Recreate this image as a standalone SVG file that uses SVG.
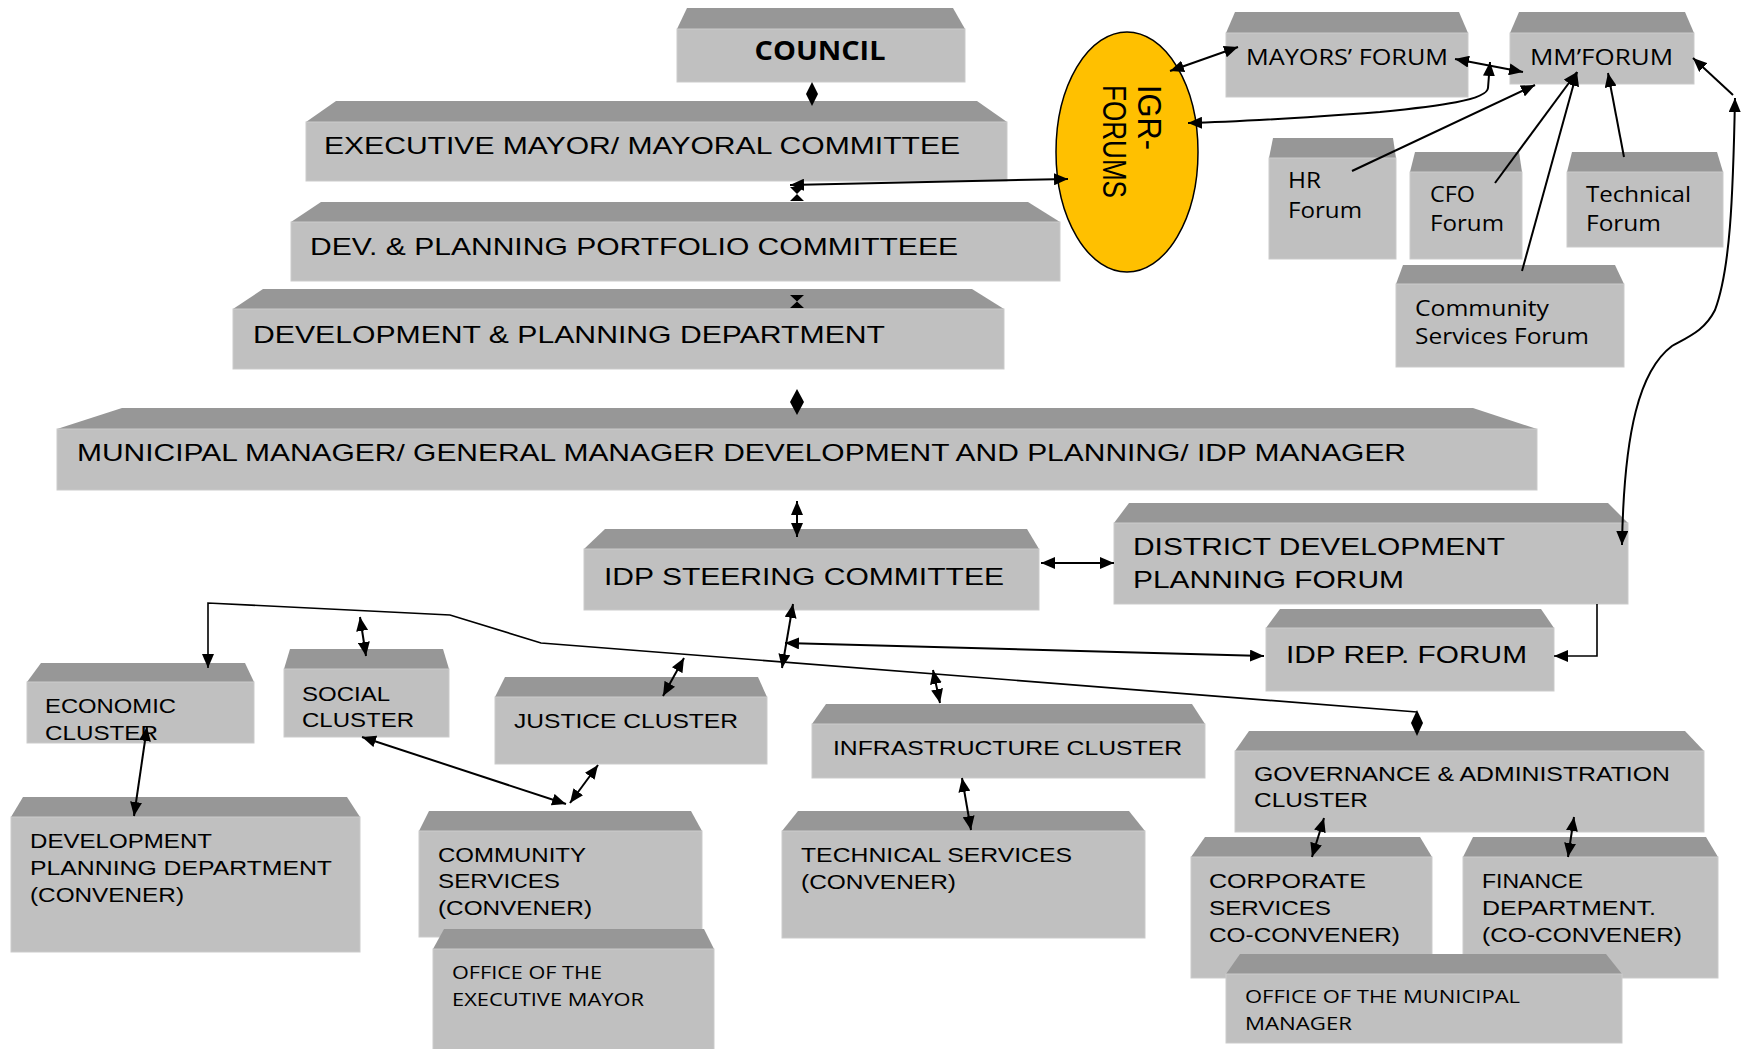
<svg xmlns="http://www.w3.org/2000/svg" width="1750" height="1049" viewBox="0 0 1750 1049">
<style>
.top{fill:#979797}
.front{fill:#c0c0c0;stroke:#cbcbcb;stroke-width:1}
.a{font-family:"Liberation Sans",Arial,sans-serif;fill:#000}
.b{font-size:24px}
.c{font-size:21px}
.o{font-family:"Open Sans","Liberation Sans",sans-serif;fill:#000}
.of{font-size:21px}
.oo{font-size:19px}
.ln{fill:none;stroke:#000;stroke-width:2}
.thin{fill:none;stroke:#000;stroke-width:1.6}
.dm{fill:#000}
</style>
<defs>
<marker id="ah" viewBox="0 0 14 12" refX="14" refY="6" markerWidth="14" markerHeight="12" markerUnits="userSpaceOnUse" orient="auto-start-reverse">
<path d="M0,0 L14,6 L0,12 z" fill="#000"/>
</marker>
</defs>
<rect width="1750" height="1049" fill="#fff"/>

<g id="council">
<polygon class="top" points="687,8 953,8 965,29 677,29"/>
<rect class="front" x="677" y="29" width="288" height="53"/>
<text x="820" y="60" text-anchor="middle" style="font-family:'Open Sans','Liberation Sans',sans-serif;font-weight:bold;font-size:27px" textLength="131" lengthAdjust="spacingAndGlyphs">COUNCIL</text>
</g>

<g id="executive-mayor">
<polygon class="top" points="336,101 977,101 1007,122 306,122"/>
<rect class="front" x="306" y="122" width="701" height="59"/>
<text class="a b" x="324" y="154" textLength="636" lengthAdjust="spacingAndGlyphs">EXECUTIVE MAYOR/ MAYORAL COMMITTEE</text>
</g>

<g id="portfolio-committee">
<polygon class="top" points="321,202 1028,202 1060,222 291,222"/>
<rect class="front" x="291" y="222" width="769" height="59"/>
<text class="a b" x="310" y="255" textLength="648" lengthAdjust="spacingAndGlyphs">DEV. &amp; PLANNING PORTFOLIO COMMITTEEE</text>
</g>

<g id="dev-planning-department">
<polygon class="top" points="263,289 972,289 1004,309 233,309"/>
<rect class="front" x="233" y="309" width="771" height="60"/>
<text class="a b" x="253" y="343" textLength="632" lengthAdjust="spacingAndGlyphs">DEVELOPMENT &amp; PLANNING DEPARTMENT</text>
</g>

<g id="municipal-manager">
<polygon class="top" points="122,408 1473,408 1537,429 57,429"/>
<rect class="front" x="57" y="429" width="1480" height="61"/>
<text class="a b" x="77" y="461" textLength="1329" lengthAdjust="spacingAndGlyphs">MUNICIPAL MANAGER/ GENERAL MANAGER DEVELOPMENT AND PLANNING/ IDP MANAGER</text>
</g>

<g id="idp-steering">
<polygon class="top" points="605,529 1027,529 1039,549 584,549"/>
<rect class="front" x="584" y="549" width="455" height="61"/>
<text class="a b" x="604" y="585" textLength="400" lengthAdjust="spacingAndGlyphs">IDP STEERING COMMITTEE</text>
</g>

<g id="district-forum">
<polygon class="top" points="1129,503 1608,503 1628,523 1114,523"/>
<rect class="front" x="1114" y="523" width="514" height="81"/>
<text class="a b" x="1133" y="555" textLength="372" lengthAdjust="spacingAndGlyphs">DISTRICT DEVELOPMENT</text>
<text class="a b" x="1133" y="588" textLength="271" lengthAdjust="spacingAndGlyphs">PLANNING FORUM</text>
</g>

<g id="idp-rep-forum">
<polygon class="top" points="1280,609 1541,609 1554,628 1266,628"/>
<rect class="front" x="1266" y="628" width="288" height="63"/>
<text class="a b" x="1286" y="663" textLength="241" lengthAdjust="spacingAndGlyphs">IDP REP. FORUM</text>
</g>

<g id="economic-cluster">
<polygon class="top" points="41,663 245,663 254,682 27,682"/>
<rect class="front" x="27" y="682" width="227" height="61"/>
<text class="a c" x="45" y="713" textLength="131" lengthAdjust="spacingAndGlyphs">ECONOMIC</text>
<text class="a c" x="45" y="740" textLength="113" lengthAdjust="spacingAndGlyphs">CLUSTER</text>
</g>

<g id="social-cluster">
<polygon class="top" points="290,649 443,649 449,669 284,669"/>
<rect class="front" x="284" y="669" width="165" height="68"/>
<text class="a c" x="302" y="701" textLength="88" lengthAdjust="spacingAndGlyphs">SOCIAL</text>
<text class="a c" x="302" y="727" textLength="112" lengthAdjust="spacingAndGlyphs">CLUSTER</text>
</g>

<g id="justice-cluster">
<polygon class="top" points="505,677 758,677 767,697 495,697"/>
<rect class="front" x="495" y="697" width="272" height="67"/>
<text class="a c" x="514" y="728" textLength="224" lengthAdjust="spacingAndGlyphs">JUSTICE  CLUSTER</text>
</g>

<g id="infrastructure-cluster">
<polygon class="top" points="826,704 1192,704 1205,724 812,724"/>
<rect class="front" x="812" y="724" width="393" height="54"/>
<text class="a c" x="833" y="755" textLength="349" lengthAdjust="spacingAndGlyphs">INFRASTRUCTURE  CLUSTER</text>
</g>

<g id="governance-cluster">
<polygon class="top" points="1249,731 1685,731 1704,751 1235,751"/>
<rect class="front" x="1235" y="751" width="469" height="81"/>
<text class="a c" x="1254" y="781" textLength="416" lengthAdjust="spacingAndGlyphs">GOVERNANCE  &amp; ADMINISTRATION</text>
<text class="a c" x="1254" y="807" textLength="114" lengthAdjust="spacingAndGlyphs">CLUSTER</text>
</g>

<g id="dev-planning-convener">
<polygon class="top" points="23,797 347,797 360,817 11,817"/>
<rect class="front" x="11" y="817" width="349" height="135"/>
<text class="a c" x="30" y="848" textLength="182" lengthAdjust="spacingAndGlyphs">DEVELOPMENT</text>
<text class="a c" x="30" y="875" textLength="302" lengthAdjust="spacingAndGlyphs">PLANNING  DEPARTMENT</text>
<text class="a c" x="30" y="902" textLength="154" lengthAdjust="spacingAndGlyphs">(CONVENER)</text>
</g>

<g id="community-services-convener">
<polygon class="top" points="429,811 691,811 702,831 419,831"/>
<rect class="front" x="419" y="831" width="283" height="106"/>
<text class="a c" x="438" y="862" textLength="148" lengthAdjust="spacingAndGlyphs">COMMUNITY</text>
<text class="a c" x="438" y="888" textLength="122" lengthAdjust="spacingAndGlyphs">SERVICES</text>
<text class="a c" x="438" y="915" textLength="154" lengthAdjust="spacingAndGlyphs">(CONVENER)</text>
</g>

<g id="office-executive-mayor">
<polygon class="top" points="444,929 704,929 714,949 433,949"/>
<rect class="front" x="433" y="949" width="281" height="101"/>
<text class="o oo" x="452" y="979" textLength="150" lengthAdjust="spacingAndGlyphs">OFFICE OF THE</text>
<text class="o oo" x="452" y="1006" textLength="192" lengthAdjust="spacingAndGlyphs">EXECUTIVE MAYOR</text>
</g>

<g id="technical-services-convener">
<polygon class="top" points="798,811 1129,811 1145,831 782,831"/>
<rect class="front" x="782" y="831" width="363" height="107"/>
<text class="a c" x="801" y="862" textLength="271" lengthAdjust="spacingAndGlyphs">TECHNICAL  SERVICES</text>
<text class="a c" x="801" y="889" textLength="155" lengthAdjust="spacingAndGlyphs">(CONVENER)</text>
</g>

<g id="corporate-services">
<polygon class="top" points="1205,837 1420,837 1432,857 1191,857"/>
<rect class="front" x="1191" y="857" width="241" height="121"/>
<text class="a c" x="1209" y="888" textLength="157" lengthAdjust="spacingAndGlyphs">CORPORATE</text>
<text class="a c" x="1209" y="915" textLength="122" lengthAdjust="spacingAndGlyphs">SERVICES</text>
<text class="a c" x="1209" y="942" textLength="191" lengthAdjust="spacingAndGlyphs">CO-CONVENER)</text>
</g>

<g id="finance-department">
<polygon class="top" points="1473,837 1706,837 1718,857 1463,857"/>
<rect class="front" x="1463" y="857" width="255" height="121"/>
<text class="a c" x="1482" y="888" textLength="101" lengthAdjust="spacingAndGlyphs">FINANCE</text>
<text class="a c" x="1482" y="915" textLength="174" lengthAdjust="spacingAndGlyphs">DEPARTMENT.</text>
<text class="a c" x="1482" y="942" textLength="200" lengthAdjust="spacingAndGlyphs">(CO-CONVENER)</text>
</g>

<g id="office-municipal-manager">
<polygon class="top" points="1240,954 1606,954 1622,974 1226,974"/>
<rect class="front" x="1226" y="974" width="396" height="69"/>
<text class="o oo" x="1245" y="1003" textLength="275" lengthAdjust="spacingAndGlyphs">OFFICE OF THE MUNICIPAL</text>
<text class="o oo" x="1245" y="1030" textLength="107" lengthAdjust="spacingAndGlyphs">MANAGER</text>
</g>

<g id="igr-forums">
<ellipse cx="1127" cy="152" rx="71" ry="120" fill="#ffc000" stroke="#000" stroke-width="1.5"/>
<text class="a" style="font-size:27px" transform="translate(1138,85) scale(1.2,1) rotate(90)" textLength="65" lengthAdjust="spacingAndGlyphs">IGR-</text>
<text class="a" style="font-size:27px" transform="translate(1103,85) scale(1.2,1) rotate(90)" textLength="113" lengthAdjust="spacingAndGlyphs">FORUMS</text>
</g>

<g id="mayors-forum">
<polygon class="top" points="1235,12 1459,12 1468,33 1226,33"/>
<rect class="front" x="1226" y="33" width="242" height="64"/>
<text class="o of" x="1246" y="65" textLength="202" lengthAdjust="spacingAndGlyphs">MAYORS’ FORUM</text>
</g>

<g id="mm-forum">
<polygon class="top" points="1519,12 1685,12 1694,33 1510,33"/>
<rect class="front" x="1510" y="33" width="184" height="51"/>
<text class="o of" x="1530" y="65" textLength="143" lengthAdjust="spacingAndGlyphs">MM’FORUM</text>
</g>

<g id="hr-forum">
<polygon class="top" points="1273,138 1393,138 1396,158 1269,158"/>
<rect class="front" x="1269" y="158" width="127" height="101"/>
<text class="o of" x="1288" y="188" textLength="33" lengthAdjust="spacingAndGlyphs">HR</text>
<text class="o of" x="1288" y="218" textLength="74" lengthAdjust="spacingAndGlyphs">Forum</text>
</g>

<g id="cfo-forum">
<polygon class="top" points="1415,152 1519,152 1522,172 1410,172"/>
<rect class="front" x="1410" y="172" width="112" height="87"/>
<text class="o of" x="1430" y="202" textLength="45" lengthAdjust="spacingAndGlyphs">CFO</text>
<text class="o of" x="1430" y="231" textLength="74" lengthAdjust="spacingAndGlyphs">Forum</text>
</g>

<g id="technical-forum">
<polygon class="top" points="1572,152 1717,152 1723,172 1567,172"/>
<rect class="front" x="1567" y="172" width="156" height="75"/>
<text class="o of" x="1586" y="202" textLength="105" lengthAdjust="spacingAndGlyphs">Technical</text>
<text class="o of" x="1586" y="231" textLength="75" lengthAdjust="spacingAndGlyphs">Forum</text>
</g>

<g id="community-services-forum">
<polygon class="top" points="1403,265 1615,265 1624,284 1396,284"/>
<rect class="front" x="1396" y="284" width="228" height="83"/>
<text class="o of" x="1415" y="316" textLength="134" lengthAdjust="spacingAndGlyphs">Community</text>
<text class="o of" x="1415" y="344" textLength="174" lengthAdjust="spacingAndGlyphs">Services Forum</text>
</g>

<g id="connectors">
<polygon class="dm" points="812,82 818,94 812,106 806,94"/>
<path class="ln" d="M790,185 L1068,179" marker-start="url(#ah)" marker-end="url(#ah)"/>
<polygon class="dm" points="790,187 804,187 797,194 804,201 790,201 797,194"/>
<polygon class="dm" points="790,295 804,295 797,301.5 804,308 790,308 797,301.5"/>
<polygon class="dm" points="797,389 804,402 797,415 790,402"/>
<path class="ln" d="M797,501 L797,537" marker-start="url(#ah)" marker-end="url(#ah)"/>
<path class="ln" d="M1041,563 L1114,563" marker-start="url(#ah)" marker-end="url(#ah)"/>
<path class="thin" d="M1597,604 V656 H1554" marker-end="url(#ah)"/>
<path class="ln" d="M793,604 L782,668" marker-start="url(#ah)" marker-end="url(#ah)"/>
<path class="ln" d="M785,643 L1264,656" marker-start="url(#ah)" marker-end="url(#ah)"/>
<path class="thin" d="M1417,712 L541,643 L450,615 L208,603 L208,668" marker-end="url(#ah)"/>
<polygon class="dm" points="1417,710 1423,723 1417,736 1411,723"/>
<path class="ln" d="M360,617 L366,656" marker-start="url(#ah)" marker-end="url(#ah)"/>
<path class="ln" d="M684,658 L663,696" marker-start="url(#ah)" marker-end="url(#ah)"/>
<path class="ln" d="M147,727 L134,816" marker-start="url(#ah)" marker-end="url(#ah)"/>
<path class="ln" d="M362,737 L566,804" marker-start="url(#ah)" marker-end="url(#ah)"/>
<path class="ln" d="M598,765 L570,803" marker-start="url(#ah)" marker-end="url(#ah)"/>
<path class="ln" d="M933,670 L940,703" marker-start="url(#ah)" marker-end="url(#ah)"/>
<path class="ln" d="M962,778 L971,830" marker-start="url(#ah)" marker-end="url(#ah)"/>
<path class="ln" d="M1324,818 L1312,857" marker-start="url(#ah)" marker-end="url(#ah)"/>
<path class="ln" d="M1574,817 L1568,857" marker-start="url(#ah)" marker-end="url(#ah)"/>
<path class="ln" d="M1170,71 L1238,47" marker-start="url(#ah)" marker-end="url(#ah)"/>
<path class="ln" d="M1455,59 L1523,72" marker-start="url(#ah)" marker-end="url(#ah)"/>
<path class="ln" d="M1490,62 L1488,88 C1487,100 1440,106 1380,112 C1300,118 1240,122 1188,123" marker-start="url(#ah)" marker-end="url(#ah)"/>
<path class="ln" d="M1352,171 L1535,85" marker-end="url(#ah)"/>
<path class="ln" d="M1495,183 L1577,72" marker-end="url(#ah)"/>
<path class="ln" d="M1522,271 L1577,72" marker-end="url(#ah)"/>
<path class="ln" d="M1624,157 L1608,73" marker-end="url(#ah)"/>
<path class="ln" d="M1733,95 L1693,58" marker-end="url(#ah)"/>
<path class="ln" d="M1622,545 C1624,430 1640,370 1672,346 C1690,336 1705,330 1715,310 C1730,270 1733,200 1735,98" marker-start="url(#ah)" marker-end="url(#ah)"/>
</g>
</svg>
